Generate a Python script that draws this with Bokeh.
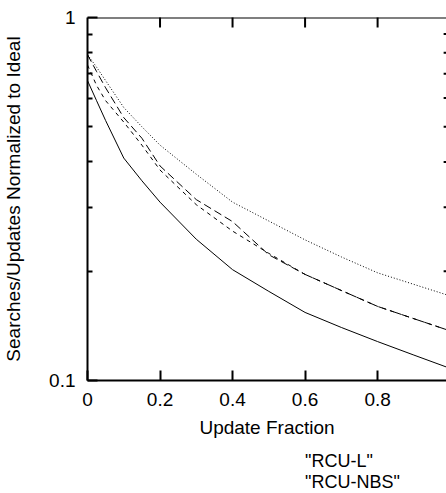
import math
from bokeh.plotting import figure
from bokeh.layouts import column
from bokeh.models import (FixedTicker, LinearAxis, LogAxis, Legend, LegendItem,
                          Range1d, Span)
from bokeh.embed import file_html
from bokeh.resources import INLINE

# ---- data -------------------------------------------------------------
update_fraction = [0, 0.025, 0.05, 0.1, 0.15, 0.2, 0.3, 0.4, 0.5, 0.6, 0.7, 0.8, 0.9, 1.0]
rcu_l   = [0.67, 0.59, 0.52, 0.41, 0.355, 0.31, 0.245, 0.202, 0.176, 0.154, 0.140, 0.128, 0.1175, 0.108]
rcu_nbs = [0.79, 0.71, 0.64, 0.53, 0.465, 0.39, 0.315, 0.274, 0.222, 0.196, 0.177, 0.160, 0.148, 0.137]
smr_l   = [0.74, 0.65, 0.59, 0.515, 0.445, 0.38, 0.305, 0.258, 0.224, 0.196, 0.177, 0.160, 0.148, 0.137]
smr_nbs = [0.79, 0.73, 0.67, 0.565, 0.50, 0.445, 0.37, 0.31, 0.275, 0.244, 0.219, 0.198, 0.184, 0.171]

series_names = ['"RCU-L"', '"RCU-NBS"', '"SMR-L"', '"SMR-NBS"']
series_dash = ["solid", "8 4", "4 4", "1 2"]

x_ticks = [0, 0.2, 0.4, 0.6, 0.8, 1.0]
x_tick_labels = ["0", "0.2", "0.4", "0.6", "0.8", "1"]
y_major_ticks = [0.1, 1]
y_major_labels = ["0.1", "1"]
y_minor_ticks = [0.2, 0.3, 0.4, 0.5, 0.6, 0.7, 0.8, 0.9]

FONT = "Liberation Sans"
FS = "19px"

p = figure(width=446, height=452, x_range=Range1d(0, 0.99), y_range=Range1d(0.1, 1),
           y_axis_type="log", output_backend="svg", toolbar_location=None,
           min_border_left=87, min_border_right=0, min_border_top=17,
           min_border_bottom=72, x_axis_location=None, y_axis_location=None)
p.outline_line_color = None
p.xgrid.grid_line_color = None
p.ygrid.grid_line_color = None
p.background_fill_color = "white"
p.border_fill_color = "white"

# bottom axis
xb = LinearAxis(ticker=FixedTicker(ticks=x_ticks),
                major_label_overrides=dict(zip(x_ticks, x_tick_labels)),
                axis_label="Update Fraction")
# left axis
yl = LogAxis(ticker=FixedTicker(ticks=y_major_ticks, minor_ticks=y_minor_ticks),
             major_label_overrides=dict(zip(y_major_ticks, y_major_labels)),
             axis_label="Searches/Updates Normalized to Ideal")

for ax in (xb, yl):
    ax.major_tick_out = 0
    ax.minor_tick_out = 0
    ax.major_tick_in = 10
    ax.minor_tick_in = 5
    ax.axis_line_width = 2
    ax.major_tick_line_width = 2
    ax.minor_tick_line_width = 2
    ax.major_label_text_font = FONT
    ax.major_label_text_font_size = FS
    ax.axis_label_text_font = FONT
    ax.axis_label_text_font_style = "normal"
    ax.axis_label_text_font_size = FS
    ax.major_label_text_color = "black"
    ax.axis_label_text_color = "black"
xb.major_label_standoff = 12
xb.axis_label_standoff = 8
yl.major_label_standoff = 12
yl.axis_label_standoff = 22

p.add_layout(xb, "below")
p.add_layout(yl, "left")

# top border with mirrored inward ticks, right mirrored minor ticks
p.add_layout(Span(location=y_major_ticks[-1], dimension="width",
                  line_color="black", line_width=2))
p.scatter(x_ticks[1:-1], [y_major_ticks[-1]] * (len(x_ticks) - 2), marker="dash",
          angle=math.pi / 2, size=20, line_color="black", line_width=2)
p.scatter([x_ticks[-1]] * len(y_minor_ticks), y_minor_ticks, marker="dash",
          size=13, line_color="black", line_width=2)

for ys, dash in zip([rcu_l, rcu_nbs, smr_l, smr_nbs], series_dash):
    p.line(update_fraction, ys, line_color="black", line_width=1, line_dash=dash)

# ---- key below the plot (gnuplot style: label, then line sample) -------
k = figure(width=446, height=41, output_backend="svg", toolbar_location=None,
           min_border=0, x_axis_location=None, y_axis_location=None)
k.outline_line_color = None
k.xgrid.grid_line_color = None
k.ygrid.grid_line_color = None
key_renderers = [k.line(x=[], y=[], line_color="black", line_width=1, line_dash=d)
                 for d in series_dash]
legend = Legend(items=[LegendItem(label=n, renderers=[r]) for n, r in zip(series_names, key_renderers)],
                orientation="vertical", nrows=2, location=(160, 0),
                label_text_font=FONT, label_text_font_size="18px",
                label_text_align="right", label_text_color="black",
                glyph_width=58, glyph_height=14, label_height=14, label_width=229,
                spacing=0, padding=0, margin=0, label_standoff=-70,
                border_line_color=None, background_fill_alpha=0)
k.add_layout(legend, "center")

open("out.html", "w").write(file_html(column(p, k, spacing=0), INLINE))
